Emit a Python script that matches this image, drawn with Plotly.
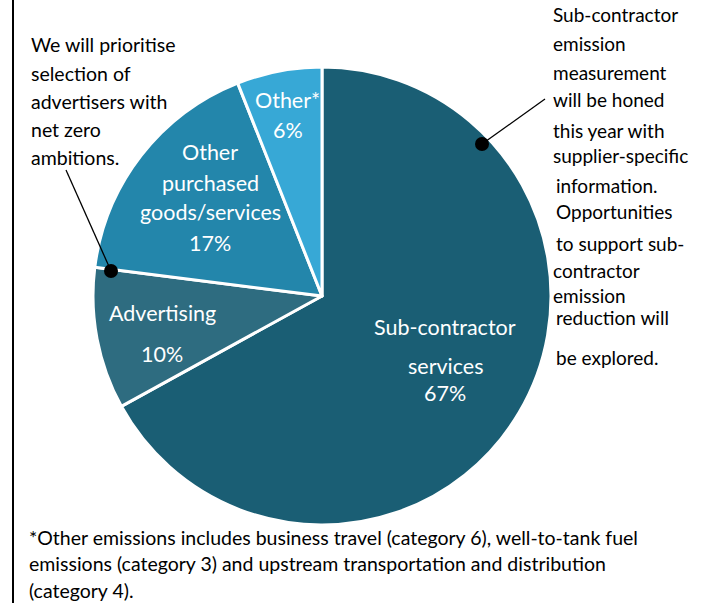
import plotly.graph_objects as go

W, H = 709, 603

labels = ["Sub-contractor services", "Advertising", "Other purchased goods/services", "Other*"]
shares = [67, 10, 17, 6]
colors = ["#1a5e74", "#2e6c80", "#2386ab", "#37a8d6"]

# slice label text (drawn as annotations, like the original callouts)
slice_text = [
    ("Sub-contractor", 445, 327), ("services", 445, 366), ("67%", 445, 393),
    ("Advertising", 162, 313), ("10%", 162, 354),
    ("Other", 210, 152), ("purchased", 210, 183), ("goods/services", 210, 212), ("17%", 210, 243),
    ("Other*", 287, 100), ("6%", 288, 130),
]

left_note = ["We will prioritise", "selection of", "advertisers with", "net zero", "ambitions."]
right_note = [
    ("Sub-contractor", 551, 15), ("emission", 551, 43), ("measurement", 551, 72),
    ("will be honed", 551, 99), ("this year with", 551, 130), ("supplier-specific", 551, 155),
    ("information.", 554, 185), ("Opportunities", 554, 212), ("to support sub-", 554, 243),
    ("contractor", 551, 270), ("emission", 551, 295), ("reduction will", 554, 317),
    ("be explored.", 554, 357),
]
footnote = [
    "*Other emissions includes business travel (category 6), well-to-tank fuel",
    "emissions (category 3) and upstream transportation and distribution",
    "(category 4).",
]

FONT = "Lato"


def px(x):
    return x / W


def py(y):
    return 1 - y / H


cx, cy, r = 322, 296, 229

fig = go.Figure(go.Pie(
    labels=labels,
    values=shares,
    sort=False,
    direction="clockwise",
    rotation=0,
    textinfo="none",
    hoverinfo="label+percent",
    marker=dict(colors=colors, line=dict(color="white", width=3)),
    domain=dict(x=[px(cx - r), px(cx + r)], y=[py(cy + r), py(cy - r)]),
    showlegend=False,
))

ann = []
for t, x, y in slice_text:
    ann.append(dict(text=t, x=px(x), y=py(y), xref="paper", yref="paper",
                    showarrow=False, xanchor="center", yanchor="middle",
                    font=dict(family=FONT, size=21.5, color="white")))
for i, t in enumerate(left_note):
    ann.append(dict(text=t, x=px(29), y=py(45 + 28 * i), xref="paper", yref="paper",
                    showarrow=False, xanchor="left", yanchor="middle",
                    font=dict(family=FONT, size=19.5, color="black")))
for t, x, y in right_note:
    ann.append(dict(text=t, x=px(x), y=py(y), xref="paper", yref="paper",
                    showarrow=False, xanchor="left", yanchor="middle",
                    font=dict(family=FONT, size=19, color="black")))
for i, t in enumerate(footnote):
    ann.append(dict(text=t, x=px(27), y=py(537 + 26.5 * i), xref="paper", yref="paper",
                    showarrow=False, xanchor="left", yanchor="middle",
                    font=dict(family=FONT, size=19.5, color="black")))

shapes = [
    # left frame line
    dict(type="line", xref="paper", yref="paper", x0=px(13), x1=px(13), y0=0, y1=1,
         line=dict(color="black", width=2)),
    # callout lines and dots
    dict(type="line", xref="paper", yref="paper", x0=px(66), y0=py(170), x1=px(111), y1=py(271),
         line=dict(color="black", width=1.3)),
    dict(type="circle", xref="paper", yref="paper", x0=px(104), x1=px(118), y0=py(278), y1=py(264),
         fillcolor="black", line=dict(width=0)),
    dict(type="line", xref="paper", yref="paper", x0=px(482), y0=py(144), x1=px(545), y1=py(99),
         line=dict(color="black", width=1.3)),
    dict(type="circle", xref="paper", yref="paper", x0=px(475), x1=px(489), y0=py(151), y1=py(137),
         fillcolor="black", line=dict(width=0)),
]

fig.update_layout(
    width=W,
    height=H,
    margin=dict(l=0, r=0, t=0, b=0),
    paper_bgcolor="white",
    plot_bgcolor="white",
    annotations=ann,
    shapes=shapes,
)

fig.write_html("out.html", config={"displayModeBar": False},
               post_script="document.body.style.margin='0';")
